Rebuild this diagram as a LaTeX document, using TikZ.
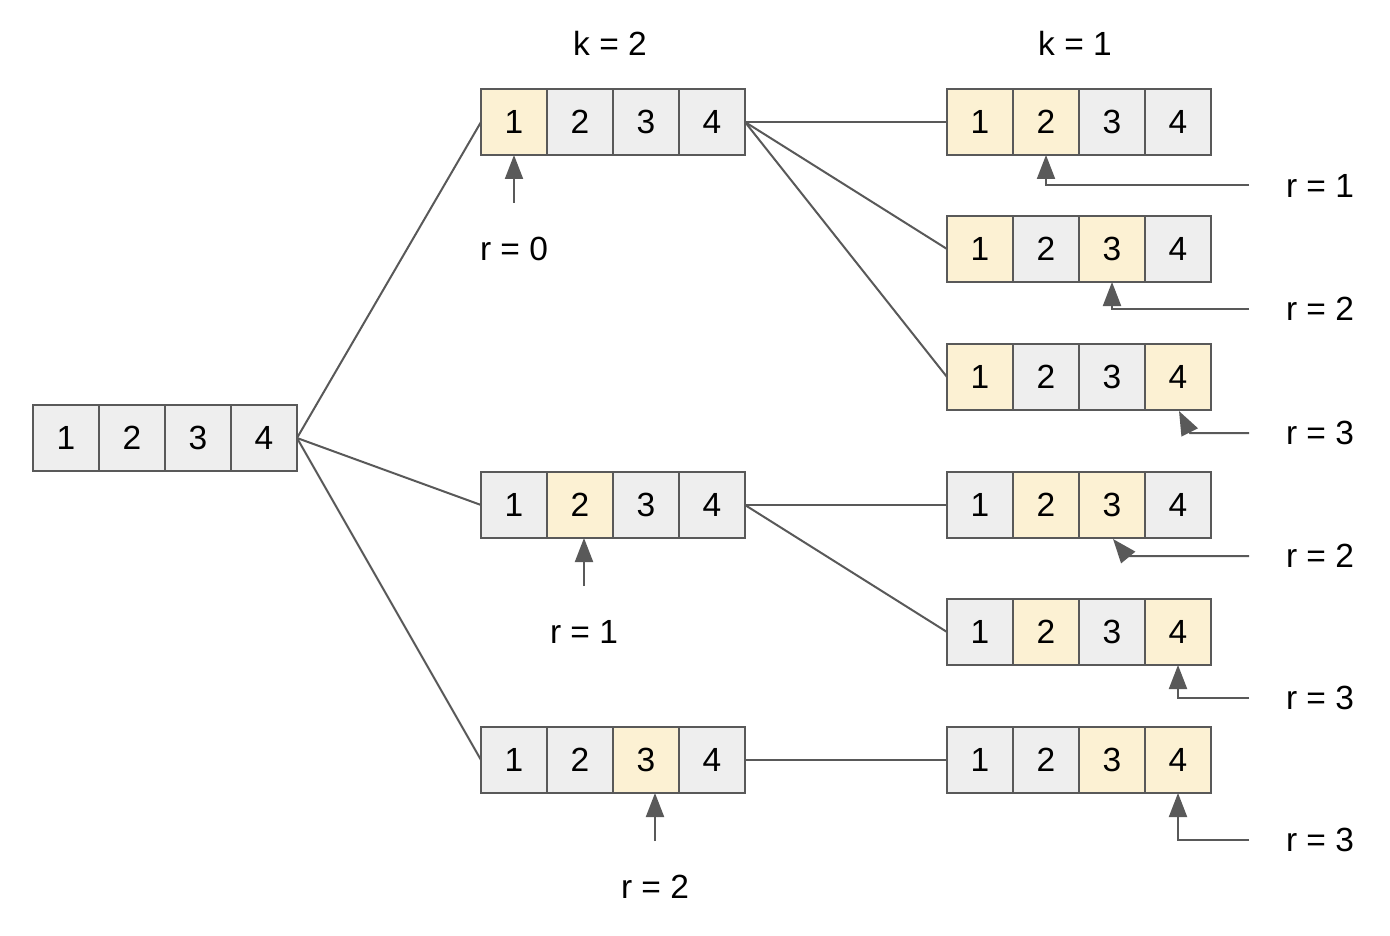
\documentclass[tikz,border=0pt]{standalone}
\usepackage{fontspec}
\setmainfont{Liberation Sans}
\usetikzlibrary{arrows.meta}
\definecolor{lc}{HTML}{595959}
\definecolor{cg}{HTML}{EEEEEE}
\definecolor{cy}{HTML}{FCF1D3}
\tikzset{
  cell/.style={draw=lc, line width=2pt, minimum width=66pt, minimum height=66pt, inner sep=0pt, outer sep=0pt, font=\fontsize{33.5}{40}\selectfont},
  lbl/.style={font=\fontsize{33.5}{40}\selectfont, inner sep=0pt},
  conn/.style={draw=lc, line width=2pt},
  arr/.style={draw=lc, line width=2pt, -{Triangle[width=18pt,length=24pt]}, color=lc},
}
\newcommand\cellrow[7]{%
  \node[cell,fill=#4] (#1-1) at (#2,#3) {1};
  \node[cell,fill=#5] (#1-2) at (#2+66,#3) {2};
  \node[cell,fill=#6] (#1-3) at (#2+132,#3) {3};
  \node[cell,fill=#7] (#1-4) at (#2+198,#3) {4};
}
\begin{document}
\begin{tikzpicture}[x=1pt,y=-1pt]
\useasboundingbox (0,0) rectangle (1390,936);
% arrays
\cellrow{root}{66}{438}{cg}{cg}{cg}{cg}
\cellrow{ma}{514}{122}{cy}{cg}{cg}{cg}
\cellrow{mb}{514}{505}{cg}{cy}{cg}{cg}
\cellrow{mc}{514}{760}{cg}{cg}{cy}{cg}
\cellrow{ra}{980}{122}{cy}{cy}{cg}{cg}
\cellrow{rb}{980}{249}{cy}{cg}{cy}{cg}
\cellrow{rc}{980}{377}{cy}{cg}{cg}{cy}
\cellrow{rd}{980}{505}{cg}{cy}{cy}{cg}
\cellrow{re}{980}{632}{cg}{cy}{cg}{cy}
\cellrow{rf}{980}{760}{cg}{cg}{cy}{cy}
% headings
\node[lbl] (k2) at (610,43) {k = 2};
\node[lbl] (k1) at (1075,43) {k = 1};
% tree connectors
\draw[conn] (root-4.east) -- (ma-1.west);
\draw[conn] (root-4.east) -- (mb-1.west);
\draw[conn] (root-4.east) -- (mc-1.west);
\draw[conn] (ma-4.east) -- (ra-1.west);
\draw[conn] (ma-4.east) -- (rb-1.west);
\draw[conn] (ma-4.east) -- (rc-1.west);
\draw[conn] (mb-4.east) -- (rd-1.west);
\draw[conn] (mb-4.east) -- (re-1.west);
\draw[conn] (mc-4.east) -- (rf-1.west);
% middle labels
\node[lbl] (l0) at (514,249) {r = 0};
\node[lbl] (l1) at (584,632) {r = 1};
\node[lbl] (l2) at (655,887) {r = 2};
\coordinate (s0) at (514,203);
\coordinate (s1) at (584,586);
\coordinate (s2) at (655,841);
\draw[arr] (s0) -- (s0 |- ma-1.south);
\draw[arr] (s1) -- (s1 |- mb-2.south);
\draw[arr] (s2) -- (s2 |- mc-3.south);
% right labels
\node[lbl] (ta) at (1320,186) {r = 1};
\node[lbl] (tb) at (1320,309) {r = 2};
\node[lbl] (tc) at (1320,433) {r = 3};
\node[lbl] (td) at (1320,556) {r = 2};
\node[lbl] (te) at (1320,698) {r = 3};
\node[lbl] (tf) at (1320,840) {r = 3};
\coordinate (ea) at (1249,185);
\coordinate (eb) at (1249,309);
\coordinate (ec) at (1249,433);
\coordinate (ed) at (1249,556);
\coordinate (ee) at (1249,698);
\coordinate (ef) at (1249,840);
\coordinate (bc) at (1190,433);
\coordinate (bd) at (1127,556);
\coordinate (tipc) at (1179,411);
\coordinate (tipd) at (1113,539);
\draw[arr] (ea) -| (ra-2.south);
\draw[arr] (eb) -| (rb-3.south);
\draw[arr] (ec) -- (bc) -- (tipc);
\draw[arr] (ed) -- (bd) -- (tipd);
\draw[arr] (ee) -| (re-4.south);
\draw[arr] (ef) -| (rf-4.south);
\end{tikzpicture}
\end{document}
